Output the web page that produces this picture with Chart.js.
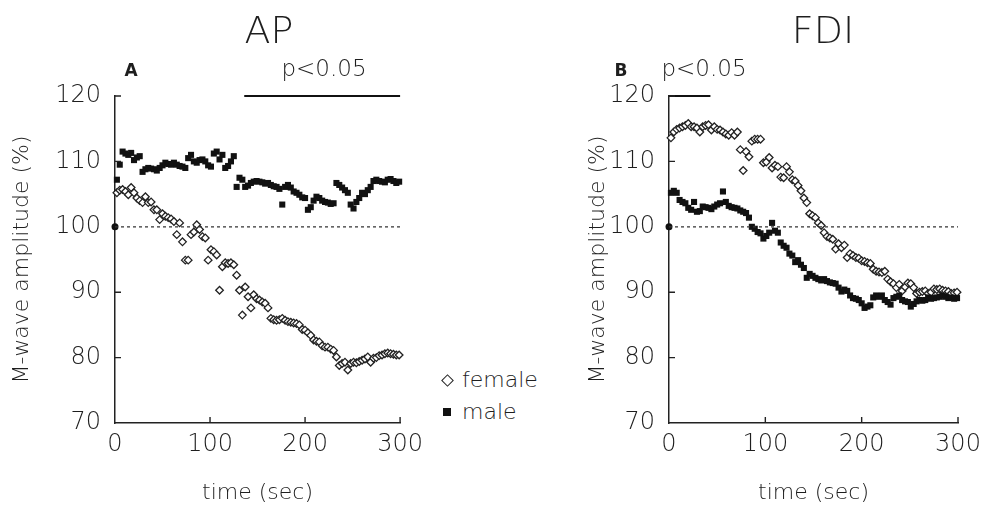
<!DOCTYPE html>
<html><head><meta charset="utf-8">
<script src="https://cdn.jsdelivr.net/npm/chart.js@4.4.1/dist/chart.umd.min.js"></script>
<style>
html,body{margin:0;padding:0;background:#fff;width:989px;height:507px;overflow:hidden;position:relative;}
canvas{position:absolute;top:0;}
#c1{left:0;}
#c2{left:560px;}
.t{position:absolute;font-family:'DejaVu Sans',sans-serif;font-weight:200;color:#1e1e1e;white-space:nowrap;line-height:1;transform:translate(-50%,-50%);}
.l{position:absolute;font-family:'DejaVu Sans',sans-serif;font-weight:200;color:#1e1e1e;white-space:nowrap;line-height:1;transform:translateY(-50%);}
.b{font-weight:bold;}
#dia{position:absolute;left:443px;top:376px;width:7px;height:7px;border:1.4px solid #222;transform:rotate(45deg);background:#fff;}
#sq{position:absolute;left:443px;top:408px;width:8px;height:8px;background:#111;}
</style></head><body>
<canvas id="c1" width="430" height="507"></canvas>
<canvas id="c2" width="429" height="507"></canvas>
<div class="t" style="left:269px;top:30px;font-size:38px;">AP</div>
<div class="t" style="left:823px;top:30px;font-size:38px;">FDI</div>
<div class="t b" style="left:131px;top:70px;font-size:17px;">A</div>
<div class="t b" style="left:621px;top:70px;font-size:17px;">B</div>
<div class="t" style="left:324px;top:68px;font-size:23px;">p&lt;0.05</div>
<div class="t" style="left:704px;top:68px;font-size:23px;">p&lt;0.05</div>
<div id="dia"></div><div id="sq"></div>
<div class="l" style="left:462px;top:380px;font-size:22px;">female</div>
<div class="l" style="left:462px;top:412px;font-size:22px;">male</div>
<script>
const times = [2,5,8,11,14,17,20,23,26,29,
 32,35,38,41,44,47,50,53,56,59,
 62,65,68,71,74,77,80,83,86,89,
 92,95,98,101,104,107,110,113,116,119,
 122,125,128,131,134,137,140,143,146,149,
 152,155,158,161,164,167,170,173,176,179,
 182,185,188,191,194,197,200,203,206,209,
 212,215,218,221,224,227,230,233,236,239,
 242,245,248,251,254,257,260,263,266,269,
 272,275,278,281,284,287,290,293,296,299];

const apMale = [107.2,109.5,111.5,111.2,111.0,111.3,110.2,110.6,110.8,108.4,
 108.8,109.0,108.9,108.8,108.6,109.0,109.4,109.8,109.6,109.5,
 109.8,109.5,109.3,109.2,109.0,110.5,111.0,110.0,109.8,110.2,
 110.3,110.0,109.4,109.2,111.2,111.5,110.3,111.0,109.0,109.3,
 110.0,110.8,106.1,107.5,107.2,106.1,106.3,106.7,106.9,107.0,
 106.9,106.8,106.6,106.7,106.4,106.2,106.1,105.8,103.4,106.1,
 106.4,106.0,105.4,105.2,104.9,104.5,104.4,102.6,103.0,104.0,
 104.6,104.4,104.0,103.8,103.7,103.5,103.6,106.7,106.4,106.0,
 105.6,105.2,103.4,102.8,103.8,104.4,105.2,105.0,105.6,106.1,
 107.0,107.2,107.0,106.9,106.8,107.2,107.3,107.0,106.7,106.9];

const apFemale = [105.2,105.6,105.7,105.4,104.9,106.0,105.2,104.4,104.0,103.7,
 104.6,103.7,103.8,102.6,102.6,101.1,102.0,101.6,101.4,101.2,
 100.8,98.8,100.6,97.7,94.9,94.9,98.8,99.2,100.3,99.6,
 98.5,98.3,94.9,96.5,96.2,95.7,90.3,93.9,94.5,94.4,
 94.5,94.2,92.6,90.3,86.5,90.8,89.3,87.6,89.6,89.0,
 88.8,88.5,88.3,87.6,86.0,85.8,85.7,85.8,86.0,85.7,
 85.5,85.4,85.3,85.2,85.0,84.3,84.2,83.8,83.4,82.7,
 82.5,82.4,81.8,81.6,81.6,81.3,81.1,80.1,78.8,79.1,
 79.3,78.1,79.1,79.3,79.2,79.4,79.6,79.8,80.1,79.3,
 79.9,80.0,80.3,80.4,80.6,80.7,80.6,80.5,80.4,80.4];

const fdiFemale = [113.6,114.5,114.9,115.1,115.3,115.5,115.8,115.3,115.3,115.1,
 114.5,115.3,115.5,115.6,114.8,115.3,114.9,114.8,114.5,114.2,
 114.0,114.4,114.0,114.5,111.8,108.6,111.5,110.7,113.1,113.4,
 113.4,113.4,109.8,109.9,110.6,109.0,109.4,109.2,107.6,107.5,
 109.2,108.4,107.2,107.0,106.3,105.5,104.4,103.7,102.0,101.7,
 101.4,100.6,100.2,99.1,98.5,98.3,98.1,96.6,97.4,96.8,
 97.2,95.3,95.9,95.6,95.3,95.2,94.8,94.7,94.5,94.4,
 93.5,93.2,93.1,93.0,93.2,92.0,91.6,91.3,90.7,91.2,
 90.2,90.8,91.4,91.3,90.7,89.8,90.0,90.1,90.2,89.8,
 90.0,90.5,90.4,90.5,90.3,90.2,90.1,89.8,89.9,90.0];

const fdiMale = [105.2,105.5,105.2,104.1,103.8,103.6,102.9,102.6,103.8,102.3,
 102.4,103.1,103.0,102.9,102.7,103.1,103.4,103.6,105.4,103.8,
 103.2,103.0,102.9,102.8,102.5,102.3,102.1,101.4,100.0,99.7,
 99.2,99.0,98.2,98.6,99.1,100.6,99.4,99.1,97.6,97.1,
 96.8,95.9,95.6,94.6,94.9,94.2,93.7,92.2,92.8,92.5,
 92.2,92.0,91.8,92.0,91.7,91.5,91.4,91.3,90.7,90.1,
 90.4,90.2,89.5,89.1,89.0,88.8,88.3,87.6,87.8,88.0,
 89.2,89.5,89.3,89.5,88.8,88.5,88.1,89.1,89.3,89.5,
 88.8,88.6,88.5,87.8,88.2,88.6,88.8,88.7,88.8,89.2,
 89.0,89.1,89.2,89.3,89.5,89.3,89.1,89.2,89.0,89.1];

const apSig = [136, 300];
const fdiSig = [0, 43];
const sigLevel = 120;
const baseLevel = 100;
const xTickVals = [0, 100, 200, 300];
const yTickMarks = [80, 90, 110, 120];
const xTickMarks = [100, 200, 300];

const FONT = "'DejaVu Sans', sans-serif";
const INK = '#1e1e1e';

const inTicks = {
  id: 'inTicks',
  afterDraw(chart) {
    const {ctx, chartArea: a} = chart;
    const x = chart.scales.x, y = chart.scales.y;
    ctx.save();
    ctx.strokeStyle = '#222';
    ctx.lineWidth = 1.4;
    ctx.beginPath();
    yTickMarks.forEach(v => { const p = y.getPixelForValue(v); ctx.moveTo(a.left, p); ctx.lineTo(a.left + 6, p); });
    xTickMarks.forEach(v => { const p = x.getPixelForValue(v); ctx.moveTo(p, a.bottom); ctx.lineTo(p, a.bottom - 6); });
    ctx.stroke();
    ctx.restore();
  }
};

function pts(vals) { return vals.map((v, i) => ({x: times[i], y: v})); }

function makeChart(id, female, male, sig, yW, rightPad, yTitlePad) {
  return new Chart(document.getElementById(id), {
    type: 'scatter',
    data: {
      datasets: [
        {label: 'baseline', data: [{x: 0, y: baseLevel}, {x: 300, y: baseLevel}], showLine: true,
         borderColor: '#333', borderWidth: 1.2, borderDash: [3, 3], pointRadius: 0, clip: false},
        {label: 'sig', data: [{x: sig[0], y: sigLevel}, {x: sig[1], y: sigLevel}], showLine: true,
         borderColor: '#111', borderWidth: 2, pointRadius: 0, clip: false},
        {label: 'male', data: pts(male), pointStyle: 'rect', pointRadius: 4.3,
         backgroundColor: '#111', borderColor: '#111', borderWidth: 0, clip: false},
        {label: 'female', data: pts(female), pointStyle: 'rectRot', pointRadius: 3.8,
         backgroundColor: '#fff', borderColor: '#222', borderWidth: 1.3, clip: false},
        {label: 'origin', data: [{x: 0, y: baseLevel}], pointStyle: 'circle', pointRadius: 3.5,
         backgroundColor: '#111', borderWidth: 0, clip: false}
      ]
    },
    options: {
      responsive: false,
      animation: false,
      events: [],
      layout: {autoPadding: false, padding: {left: 0, right: rightPad, top: 96, bottom: 0}},
      plugins: {legend: {display: false}, tooltip: {enabled: false}, title: {display: false}},
      scales: {
        x: {
          type: 'linear', min: 0, max: 300,
          afterFit: s => { s.height = 84; },
          afterBuildTicks: s => { s.ticks = xTickVals.map(v => ({value: v})); },
          grid: {display: false, drawTicks: false},
          border: {display: true, color: '#222', width: 1.5},
          ticks: {color: INK, font: {family: FONT, size: 24, weight: 200}, padding: 7, maxRotation: 0},
          title: {display: true, text: 'time (sec)', color: INK, font: {family: FONT, size: 22, weight: 200}, padding: {top: 0, bottom: 1}}
        },
        y: {
          type: 'linear', min: 70, max: 120,
          afterFit: s => { s.width = yW; },
          grid: {display: false, drawTicks: false},
          border: {display: true, color: '#222', width: 1.5},
          ticks: {stepSize: 10, color: INK, font: {family: FONT, size: 24, weight: 200}, padding: 14},
          title: {display: true, text: 'M-wave amplitude (%)', color: INK, font: {family: FONT, size: 22, weight: 200}, padding: {top: yTitlePad, bottom: 0}}
        }
      }
    },
    plugins: [inTicks]
  });
}

makeChart('c1', apFemale, apMale, apSig, 115, 24, 9);
makeChart('c2', fdiFemale, fdiMale, fdiSig, 109, 31, 25);
</script>
</body></html>
